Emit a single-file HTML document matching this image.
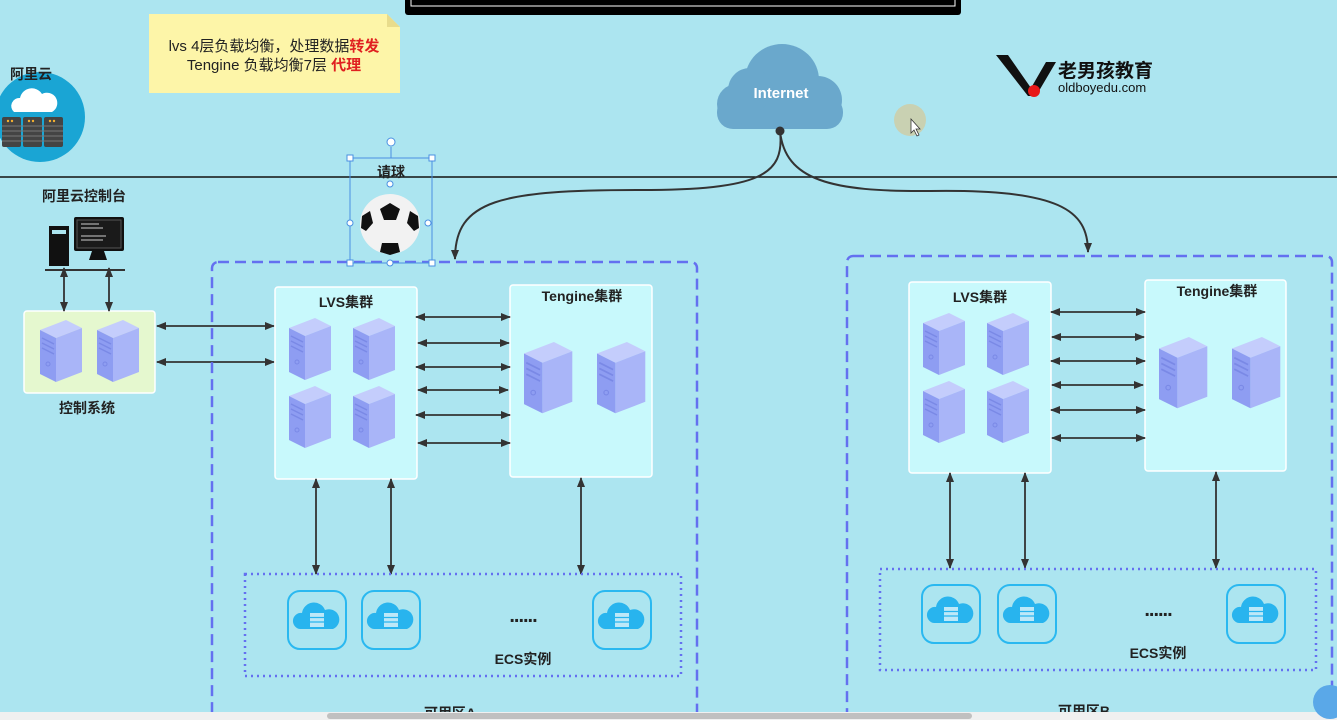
<!DOCTYPE html>
<html><head><meta charset="utf-8"><style>
html,body{margin:0;padding:0;width:1337px;height:720px;overflow:hidden;background:#ace5f0}
svg{display:block}
text{font-family:"Liberation Sans","Noto Sans CJK SC",sans-serif}
</style></head><body>
<svg width="1337" height="720" viewBox="0 0 1337 720" xmlns="http://www.w3.org/2000/svg">
<defs>
<marker id="ah" markerWidth="10" markerHeight="8" refX="9" refY="4" orient="auto-start-reverse" markerUnits="userSpaceOnUse"><path d="M0,0 L10,4 L0,8 z" fill="#333"/></marker>
<g id="srv">
<path d="M0,10 L26,0 L42,8 L16,18 z" fill="#c4cdfc"/>
<path d="M0,10 L16,18 L16,62 L0,54 z" fill="#8e9df2"/>
<path d="M16,18 L42,8 L42,52 L16,62 z" fill="#a9b5f8"/>
<path d="M2,18 L14,24 M2,23 L14,29 M2,28 L14,34" stroke="#7a89e6" stroke-width="1.5"/>
<circle cx="8" cy="44" r="2" fill="none" stroke="#7a89e6"/>
</g>
<g id="ecs">
<rect x="0" y="0" width="58" height="58" rx="12" fill="#ace5f0" stroke="#2ab8f0" stroke-width="2"/>
<path d="M12,38 a8,8 0 0 1 2,-16 a12,12 0 0 1 23,-3 a9,9 0 0 1 8,19 z" fill="#28b4ee"/>
<rect x="22" y="22" width="14" height="14" fill="#bde8f8"/>
<path d="M22,26.5 h14 M22,31 h14" stroke="#28b4ee" stroke-width="1.2"/>
</g>
</defs>

<rect x="405" y="-4" width="556" height="19" rx="3" fill="#000"/>
<rect x="411" y="-4" width="544" height="10" fill="none" stroke="#fff" stroke-width="1"/>

<path d="M149,14 L387,14 L400,27 L400,93 L149,93 z" fill="#fdf5a8"/>
<path d="M387,14 L400,27 L387,27 z" fill="#e8dc8c"/>
<text x="274" y="51" font-size="15" text-anchor="middle" fill="#222">lvs 4层负载均衡，处理数据<tspan fill="#e02020" font-weight="bold">转发</tspan></text>
<text x="274" y="70" font-size="15" text-anchor="middle" fill="#222">Tengine 负载均衡7层 <tspan fill="#e02020" font-weight="bold">代理</tspan></text>

<circle cx="40" cy="117" r="45" fill="#1aa5d4"/>
<text x="10" y="79" font-size="14" font-weight="bold" fill="#222">阿里云</text>
<path d="M14,112 a8,8 0 0 1 6,-14 a12,12 0 0 1 22,-4 a9,9 0 0 1 10,18 z" fill="#fff"/>
<g fill="#444"><rect x="2" y="117" width="19" height="30" rx="2"/><rect x="23" y="117" width="19" height="30" rx="2"/><rect x="44" y="117" width="19" height="30" rx="2"/></g>
<g stroke="#777" stroke-width="1"><path d="M2,126h61 M2,131h61 M2,136h61 M2,141h61"/></g>
<g fill="#f4b030"><circle cx="8" cy="121" r="1.2"/><circle cx="12" cy="121" r="1.2"/><circle cx="29" cy="121" r="1.2"/><circle cx="33" cy="121" r="1.2"/><circle cx="50" cy="121" r="1.2"/><circle cx="54" cy="121" r="1.2"/></g>

<line x1="0" y1="177" x2="1337" y2="177" stroke="#111" stroke-width="1.5"/>

<text x="42" y="201" font-size="14" font-weight="bold" fill="#222">阿里云控制台</text>
<rect x="49" y="226" width="20" height="40" fill="#111"/>
<rect x="52" y="230" width="14" height="4" fill="#ace5f0"/>
<rect x="74" y="217" width="50" height="34" rx="2" fill="#111"/>
<rect x="77" y="220" width="44" height="28" fill="#1a1a1a" stroke="#555"/>
<path d="M81,224h18 M81,228h22 M81,236h25 M81,240h22" stroke="#ccc" stroke-width="1"/>
<path d="M92,251 h12 l3,9 h-18 z" fill="#111"/>
<line x1="45" y1="270" x2="125" y2="270" stroke="#333" stroke-width="2"/>

<rect x="24" y="311" width="131" height="82" rx="3" fill="#e5f8cf" stroke="#fff" stroke-width="1.5"/>
<use href="#srv" x="40" y="320"/><use href="#srv" x="97" y="320"/>
<text x="87" y="413" font-size="14" font-weight="bold" text-anchor="middle" fill="#222">控制系统</text>
<g stroke="#333" stroke-width="1.8" marker-start="url(#ah)" marker-end="url(#ah)">
<line x1="64" y1="268" x2="64" y2="311"/><line x1="109" y1="268" x2="109" y2="311"/>
<line x1="157" y1="326" x2="274" y2="326"/><line x1="157" y1="362" x2="274" y2="362"/>
</g>

<rect x="212" y="262" width="485" height="470" rx="6" fill="none" stroke="#6470f0" stroke-width="2.5" stroke-dasharray="11,6"/>
<rect x="275" y="287" width="142" height="192" rx="3" fill="#c8f9fc" stroke="#fff" stroke-width="1.5"/>
<text x="346" y="307" font-size="14" font-weight="bold" text-anchor="middle" fill="#222">LVS集群</text>
<use href="#srv" x="289" y="318"/><use href="#srv" x="353" y="318"/><use href="#srv" x="289" y="386"/><use href="#srv" x="353" y="386"/>
<rect x="510" y="285" width="142" height="192" rx="3" fill="#c8f9fc" stroke="#fff" stroke-width="1.5"/>
<text x="582" y="301" font-size="14" font-weight="bold" text-anchor="middle" fill="#222">Tengine集群</text>
<g transform="translate(524,342) scale(1.15)"><use href="#srv"/></g>
<g transform="translate(597,342) scale(1.15)"><use href="#srv"/></g>
<g stroke="#333" stroke-width="1.8" marker-start="url(#ah)" marker-end="url(#ah)">
<line x1="416" y1="317" x2="510" y2="317"/><line x1="418" y1="343" x2="509" y2="343"/>
<line x1="416" y1="367" x2="510" y2="367"/><line x1="418" y1="390" x2="508" y2="390"/>
<line x1="416" y1="415" x2="510" y2="415"/><line x1="418" y1="443" x2="510" y2="443"/>
<line x1="316" y1="479" x2="316" y2="574"/><line x1="391" y1="479" x2="391" y2="574"/>
<line x1="581" y1="478" x2="581" y2="574"/>
</g>
<rect x="245" y="574" width="436" height="102" fill="none" stroke="#6470f0" stroke-width="2.5" stroke-dasharray="2,4"/>
<use href="#ecs" x="288" y="591"/><use href="#ecs" x="362" y="591"/><use href="#ecs" x="593" y="591"/>
<text x="523" y="622" font-size="20" font-weight="bold" text-anchor="middle" fill="#222" letter-spacing="-1">......</text>
<text x="523" y="664" font-size="14" font-weight="bold" text-anchor="middle" fill="#222">ECS实例</text>
<text x="450" y="718" font-size="14" font-weight="bold" text-anchor="middle" fill="#222">可用区A</text>

<rect x="847" y="256" width="485" height="476" rx="6" fill="none" stroke="#6470f0" stroke-width="2.5" stroke-dasharray="11,6"/>
<rect x="909" y="282" width="142" height="191" rx="3" fill="#c8f9fc" stroke="#fff" stroke-width="1.5"/>
<text x="980" y="302" font-size="14" font-weight="bold" text-anchor="middle" fill="#222">LVS集群</text>
<use href="#srv" x="923" y="313"/><use href="#srv" x="987" y="313"/><use href="#srv" x="923" y="381"/><use href="#srv" x="987" y="381"/>
<rect x="1145" y="280" width="141" height="191" rx="3" fill="#c8f9fc" stroke="#fff" stroke-width="1.5"/>
<text x="1217" y="296" font-size="14" font-weight="bold" text-anchor="middle" fill="#222">Tengine集群</text>
<g transform="translate(1159,337) scale(1.15)"><use href="#srv"/></g>
<g transform="translate(1232,337) scale(1.15)"><use href="#srv"/></g>
<g stroke="#333" stroke-width="1.8" marker-start="url(#ah)" marker-end="url(#ah)">
<line x1="1051" y1="312" x2="1145" y2="312"/><line x1="1052" y1="337" x2="1144" y2="337"/>
<line x1="1051" y1="361" x2="1145" y2="361"/><line x1="1052" y1="385" x2="1143" y2="385"/>
<line x1="1051" y1="410" x2="1145" y2="410"/><line x1="1052" y1="438" x2="1145" y2="438"/>
<line x1="950" y1="473" x2="950" y2="568"/><line x1="1025" y1="473" x2="1025" y2="568"/>
<line x1="1216" y1="472" x2="1216" y2="568"/>
</g>
<rect x="880" y="569" width="436" height="101" fill="none" stroke="#6470f0" stroke-width="2.5" stroke-dasharray="2,4"/>
<use href="#ecs" x="922" y="585"/><use href="#ecs" x="998" y="585"/><use href="#ecs" x="1227" y="585"/>
<text x="1158" y="616" font-size="20" font-weight="bold" text-anchor="middle" fill="#222" letter-spacing="-1">......</text>
<text x="1158" y="658" font-size="14" font-weight="bold" text-anchor="middle" fill="#222">ECS实例</text>
<text x="1084" y="716" font-size="14" font-weight="bold" text-anchor="middle" fill="#222">可用区B</text>

<!-- Internet cloud -->
<g fill="#6aa8cc">
<rect x="717" y="96" width="126" height="33" rx="16"/>
<ellipse cx="782" cy="80" rx="37" ry="36"/>
<circle cx="750" cy="90" r="22"/>
<circle cx="818" cy="100" r="24"/>
<circle cx="737" cy="104" r="20"/>
</g>
<text x="781" y="98" font-size="15" font-weight="bold" text-anchor="middle" fill="#fff">Internet</text>
<circle cx="780" cy="131" r="4.5" fill="#333"/>
<path d="M780,131 C785,175 760,190 640,190 C500,190 455,200 455,259" fill="none" stroke="#333" stroke-width="2" marker-end="url(#ah)"/>
<path d="M780,131 C785,180 830,192 930,191 C1060,189 1088,210 1088,252" fill="none" stroke="#333" stroke-width="2" marker-end="url(#ah)"/>

<path d="M996,55 L1008,55 L1031,88 L1046,62 L1056,62 L1036,96 L1028,96 z" fill="#111"/>
<circle cx="1034" cy="91" r="6" fill="#e81818"/>
<text x="1058" y="77" font-size="19" font-weight="bold" fill="#111">老男孩教育</text>
<text x="1058" y="92" font-size="13" fill="#111">oldboyedu.com</text>

<circle cx="910" cy="120" r="16" fill="#c9d1b2"/>
<path d="M911,119 v14 l3,-3 l3,6 l2,-1 l-3,-6 h4 z" fill="#fff" stroke="#333" stroke-width="0.8"/>

<rect x="350" y="158" width="82" height="105" fill="none" stroke="#4a90e2" stroke-width="1"/>
<line x1="391" y1="147" x2="391" y2="158" stroke="#4a90e2"/>
<circle cx="391" cy="142" r="4" fill="#fff" stroke="#4a90e2"/>
<g fill="#fff" stroke="#4a90e2"><rect x="347" y="155" width="6" height="6"/><rect x="429" y="155" width="6" height="6"/><rect x="347" y="260" width="6" height="6"/><rect x="429" y="260" width="6" height="6"/></g>
<text x="391" y="177" font-size="14" font-weight="bold" text-anchor="middle" fill="#222">请球</text>
<circle cx="390" cy="224" r="30" fill="#f2f2f2"/>
<path d="M380,209 l10,-6 l10,6 l-4,11 h-12 z M362,216 l8,-5 l3,12 l-7,8 l-5,-3 z M418,216 l-8,-5 l-3,12 l7,8 l5,-3 z M380,252 l2,-9 h16 l2,9 l-10,3 z" fill="#111"/>
<g fill="#fff" stroke="#4a90e2"><circle cx="390" cy="184" r="3"/><circle cx="350" cy="223" r="3"/><circle cx="428" cy="223" r="3"/><circle cx="390" cy="263" r="3"/></g>

<rect x="0" y="712" width="1337" height="8" fill="#f0f0f0"/>
<rect x="327" y="713" width="645" height="6" rx="3" fill="#c0c0c0"/>
<circle cx="1330" cy="702" r="17" fill="#5aa8e8"/>
</svg>
</body></html>
